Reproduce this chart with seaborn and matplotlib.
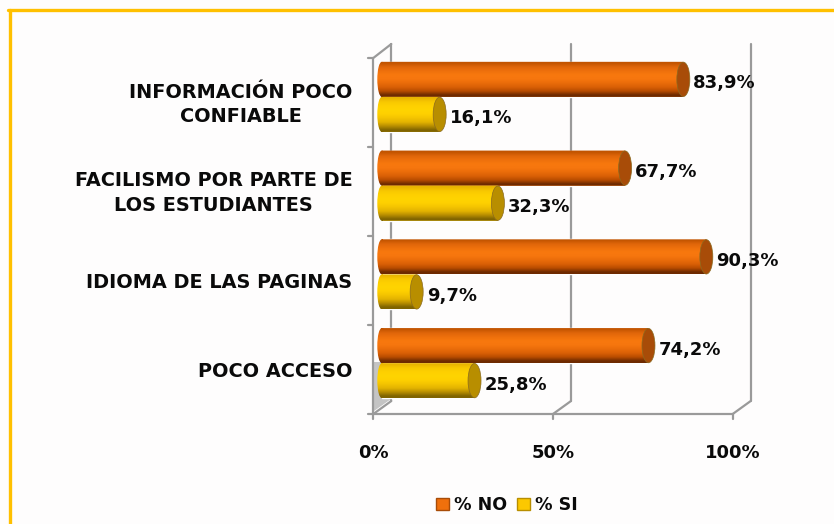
import numpy as np
import pandas as pd
import matplotlib
matplotlib.use("Agg")
import matplotlib.pyplot as plt
from matplotlib.patches import Ellipse, Rectangle
from matplotlib.path import Path
from matplotlib.lines import Line2D
from matplotlib.colors import to_rgb
import seaborn as sns

categories = ["INFORMACIÓN POCO\nCONFIABLE", "FACILISMO POR PARTE DE\nLOS ESTUDIANTES",
              "IDIOMA DE LAS PAGINAS", "POCO ACCESO"]
no_values = [83.9, 67.7, 90.3, 74.2]
si_values = [16.1, 32.3, 9.7, 25.8]
series_names = ["% NO", "% SI"]
x_ticks = [0, 50, 100]
x_tick_labels = ["0%", "50%", "100%"]

W, H = 834, 524
sns.set_theme(style="white")
plt.rcParams["font.family"] = ["DejaVu Sans"]
fig = plt.figure(figsize=(W / 100, H / 100), dpi=100, facecolor="#fefdfd")

# axes: x 0..100 on the front plane, y band holding the four category groups
L, R, T, B = 373.3, 732.7, 52.5, 407.5
ax = fig.add_axes([L / W, 1 - B / H, (R - L) / W, (B - T) / H])
ax.patch.set_alpha(0)

df = pd.DataFrame({
    "cat": categories * 2,
    "serie": [series_names[0]] * 4 + [series_names[1]] * 4,
    "val": no_values + si_values,
})
colors = {series_names[0]: "#f0700c", series_names[1]: "#fcc800"}
sns.barplot(data=df, y="cat", x="val", hue="serie", palette=colors, orient="h",
            width=0.79, gap=0, saturation=1, ax=ax, legend=False, zorder=3)
ax.set_xlabel("")
ax.set_ylabel("")

px = (R - L) / 100           # pixels per x unit
DEPTH = 8.5 / px             # bars sit inside the 3D floor
cap_w = 13 / px
nose_w = 4.5 / px

shade = {
    series_names[0]: ["#c25400", "#e0660a", "#ee700c", "#f8780e", "#f6760e", "#ea6c0a", "#da6006", "#b84c00", "#6e2a00"],
    series_names[1]: ["#e8b400", "#f8c800", "#fed000", "#ffd400", "#fed000", "#f4c400", "#e4b400", "#b88e00", "#806400"],
}
cap_col = {series_names[0]: "#a84c08", series_names[1]: "#b88e00"}

for name, container in zip(series_names, ax.containers):
    for p in container:
        y0, h, w = p.get_y(), p.get_height(), p.get_width()
        center = y0 + h / 2
        p.set_x(DEPTH)
        x0, x1 = DEPTH, DEPTH + w
        grad = np.array([to_rgb(c) for c in shade[name]])[:, None, :]
        im = ax.imshow(grad, extent=(x0 - nose_w, x1, y0 + h, y0), aspect="auto",
                       interpolation="bilinear", zorder=3.1, clip_on=True)
        nose = Ellipse((x0, center), 2 * nose_w, h)
        nose_path = nose.get_path().transformed(nose.get_patch_transform())
        body_path = Path([(x0, y0), (x1, y0), (x1, y0 + h), (x0, y0 + h), (x0, y0)], closed=True)
        im.set_clip_path(Path.make_compound_path(nose_path, body_path), transform=ax.transData)
        ax.add_patch(Ellipse((x1, center), cap_w, h * 0.98, facecolor=cap_col[name], edgecolor="#8a6a20",
                             lw=0.5, zorder=3.2, clip_on=False))
        ax.annotate(f"{w:.1f}%".replace(".", ","), (x1, center), xytext=(10, -4),
                    textcoords="offset pixels", va="center", ha="left", fontsize=13,
                    fontweight="bold", color="#0a0a0a", zorder=5, annotation_clip=False)
ax.set_xlim(0, 100)
ax.set_ylim(3.5, -0.5)

# 3D frame, behind the axes
frame = "#9a9a9a"
dx, dy = 18, 13
def to_fig(xp, yp):
    return xp / W, 1 - yp / H
def seg(x0, y0, x1, y1, lw=1.6, c=frame, z=-1):
    a, b = to_fig(x0, y0), to_fig(x1, y1)
    fig.add_artist(Line2D([a[0], b[0]], [a[1], b[1]], color=c, lw=lw, zorder=z))
front_top, front_bot = 58, 414
for t in x_ticks:
    xf = L + t * px
    seg(xf + dx, 44, xf + dx, front_bot - dy)
    seg(xf, front_bot, xf + dx, front_bot - dy)
    seg(xf, front_bot, xf, front_bot + 5)
seg(L, front_bot, R, front_bot)
seg(L, front_top, L, front_bot)
seg(L, front_top, L + dx, 44)
for i in range(5):
    yy = front_top + i * (front_bot - front_top) / 4
    seg(L - 5, yy, L, yy)
# grey wall sliver near the floor
fig.add_artist(plt.Polygon([to_fig(L + 1, 411), to_fig(L + 1, 362), to_fig(L + 18, 362), to_fig(L + 18, 399)],
                           closed=True, color="#c4c4c4", lw=0, zorder=-2))

# ticks
ax.set_xticks(x_ticks, x_tick_labels)
ax.set_yticks(np.arange(4) + np.array([0.03, 0.03, 0.07, 0.07]), categories)
ax.tick_params(axis="x", length=0, pad=26, labelsize=13, labelcolor="#0a0a0a")
ax.tick_params(axis="y", length=0, pad=15, labelsize=13.9, labelcolor="#0a0a0a")
for t in ax.get_xticklabels() + ax.get_yticklabels():
    t.set_fontweight("bold")
for t in ax.get_yticklabels():
    t.set_multialignment("center")
    t.set_linespacing(1.35)
sns.despine(ax=ax, left=True, bottom=True)

# legend
handles = [Rectangle((0, 0), 1, 1, facecolor=colors[n], edgecolor=cap_col[n], lw=1) for n in series_names]
fig.legend(handles, series_names, loc="center", bbox_to_anchor=(507 / W, 1 - 505 / H), ncol=2, frameon=False,
           handlelength=0.7, handleheight=0.7, handletextpad=0.3, columnspacing=0.6,
           prop={"weight": "bold", "size": 12.6}, labelcolor="#0a0a0a")

# outer border: top and left only
for a, b in [((8, 10), (834, 10)), ((9.5, 10), (9.5, 524))]:
    seg(a[0], a[1], b[0], b[1], lw=2.4, c="#ffc000", z=6)

fig.savefig("out.png", dpi=100, facecolor=fig.get_facecolor())
